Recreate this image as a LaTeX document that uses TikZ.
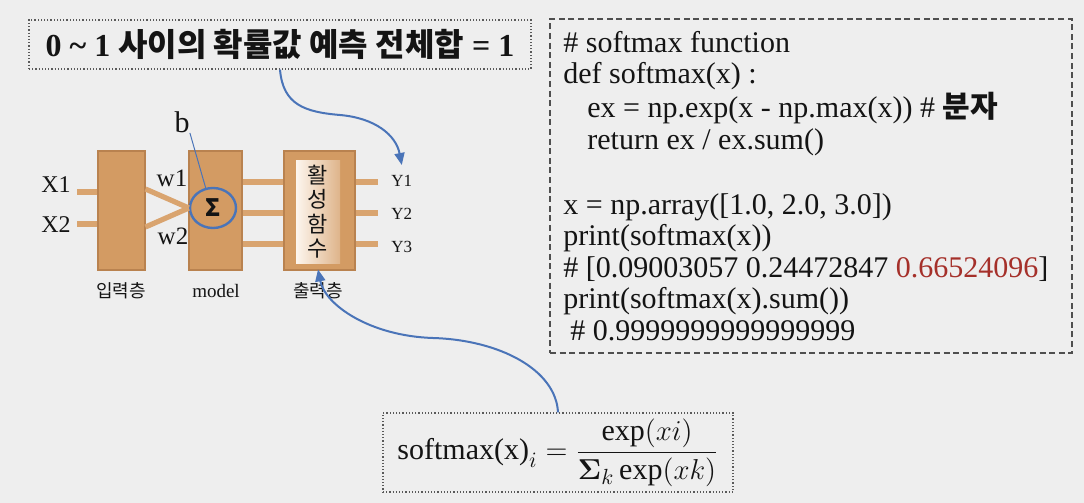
\documentclass[tikz,border=0pt]{standalone}
\usepackage{amsmath,amssymb}
\usepackage{fontspec}
\setmainfont{Liberation Serif}
\newfontfamily\krfont{Noto Sans CJK KR}
\usetikzlibrary{arrows.meta,shapes.geometric}
\definecolor{Paper}{HTML}{EEEEEE}
\definecolor{Tan}{HTML}{D39B63}
\definecolor{TanEdge}{HTML}{B9824F}
\definecolor{TanLine}{HTML}{D9A46F}
\definecolor{Cream}{HTML}{FDF6EE}
\definecolor{LinkBlue}{HTML}{4A74B8}
\definecolor{DarkRed}{HTML}{A5302A}
\definecolor{Ink}{HTML}{141414}
\begin{document}
\begin{tikzpicture}[x=.5pt,y=-.5pt,>={Triangle[length=6pt,width=5pt]},every node/.style={text=Ink,inner sep=0pt},
 layer/.style={draw=TanEdge,fill=Tan,line width=1pt,minimum height=59.5pt},
 wire/.style={TanLine,line width=2.6pt},
 dotbox/.style={draw=Ink!70,densely dotted,line width=.6pt},
 dashbox/.style={draw=Ink!75,dash pattern=on 3pt off 1.8pt,line width=.6pt},
 link/.style={LinkBlue,line width=1pt,->}]
\fill[Paper] (0,0) rectangle (1084,503);
% title and code
\node[dotbox,minimum width=251pt,minimum height=24.5pt,font=\fontsize{16}{18}\selectfont\bfseries] (title) at (280,44.5){0 \char`~{} 1 {\krfont 사이의 확률값 예측 전체합} = 1};
\node[dashbox,minimum width=261pt,minimum height=167pt] (codebox) at (811,186){};
\node[anchor=north west,align=left,font=\fontsize{15}{15.7}\selectfont] (code) at (563,31){\# softmax function\\def softmax(x) :\\\hspace*{12pt}ex = np.exp(x - np.max(x)) \# {\krfont\bfseries 분자}\\\hspace*{12pt}return ex / ex.sum()\\[17pt]x = np.array([1.0, 2.0, 3.0])\\print(softmax(x))\\\# [0.09003057 0.24472847 \textcolor{DarkRed}{0.66524096}]\\print(softmax(x).sum())\\\hspace*{3.5pt}\# 0.9999999999999999};
% network
\draw[wire] (77,192)--(100,192); \draw[wire] (77,224)--(100,224);
\node[layer,minimum width=23.5pt] (inbox) at (121,210.5){};
\node[layer,minimum width=26.5pt] (modelbox) at (215.5,210.5){};
\node[layer,minimum width=35.5pt] (outbox) at (319.5,210.5){};
\foreach \yy in {182,213,244}{\draw[wire] (modelbox.east|-0,\yy)--(outbox.west|-0,\yy); \draw[wire] (outbox.east|-0,\yy)--(378,\yy);}
\node[ellipse,draw=LinkBlue,line width=1.2pt,fill=Tan,minimum width=23pt,minimum height=20pt] (sigma) at (213,208){};
\draw[wire] (inbox.east|-0,189)--(sigma.west); \draw[wire] (inbox.east|-0,227)--(sigma.west);
\node[font=\krfont\bfseries\fontsize{12}{12}\selectfont] at (sigma){Σ};
\node[shade,left color=Cream,right color=Tan!75!white,minimum width=22pt,minimum height=51.5pt] (act) at (318,211.5){};
\node[align=center,font=\krfont\fontsize{11}{12.2}\selectfont] at (act){활\\성\\함\\수};
\node[font=\fontsize{12}{12}\selectfont] (x1) at (56,185){X1}; \node[font=\fontsize{12}{12}\selectfont] (x2) at (56,225){X2};
\node[font=\fontsize{12.5}{12}\selectfont] (w1) at (172,178){w1}; \node[font=\fontsize{12.5}{12}\selectfont] (w2) at (173,236){w2};
\node[font=\fontsize{15}{15}\selectfont] (blabel) at (182,122){b};
\draw[LinkBlue,line width=.5pt] (blabel.south east)--(sigma.110);
\node[anchor=west,font=\fontsize{8.5}{9}\selectfont] (y1) at (391,181){Y1};
\node[anchor=west,font=\fontsize{8.5}{9}\selectfont] (y2) at (391,214){Y2};
\node[anchor=west,font=\fontsize{8.5}{9}\selectfont] (y3) at (391,247){Y3};
\node[font=\krfont\fontsize{9}{9}\selectfont] (inlab) at (121,291){입력층};
\node[font=\fontsize{9.5}{9}\selectfont] (modellab) at (216,291){model};
\node[font=\krfont\fontsize{9}{9}\selectfont] (outlab) at (318,291){출력층};
% formula
\node[dotbox,minimum width=175pt,minimum height=39.5pt,font=\fontsize{15}{16}\selectfont] (formula) at (558,452.5){$\text{softmax(x)}_i=\dfrac{\exp(xi)}{\boldsymbol{\Sigma}_k\exp(xk)}$};
% links
\draw[link] (title.south) .. controls (283,105) and (305,112) .. (340,115) .. controls (375,118) and (396,135) .. ([yshift=5pt]y1.north);
\draw[link] (formula.north) .. controls (556,370) and (500,340) .. (433,338) .. controls (370,336) and (325,305) .. ([yshift=-3pt]act.south);
\end{tikzpicture}
\end{document}
